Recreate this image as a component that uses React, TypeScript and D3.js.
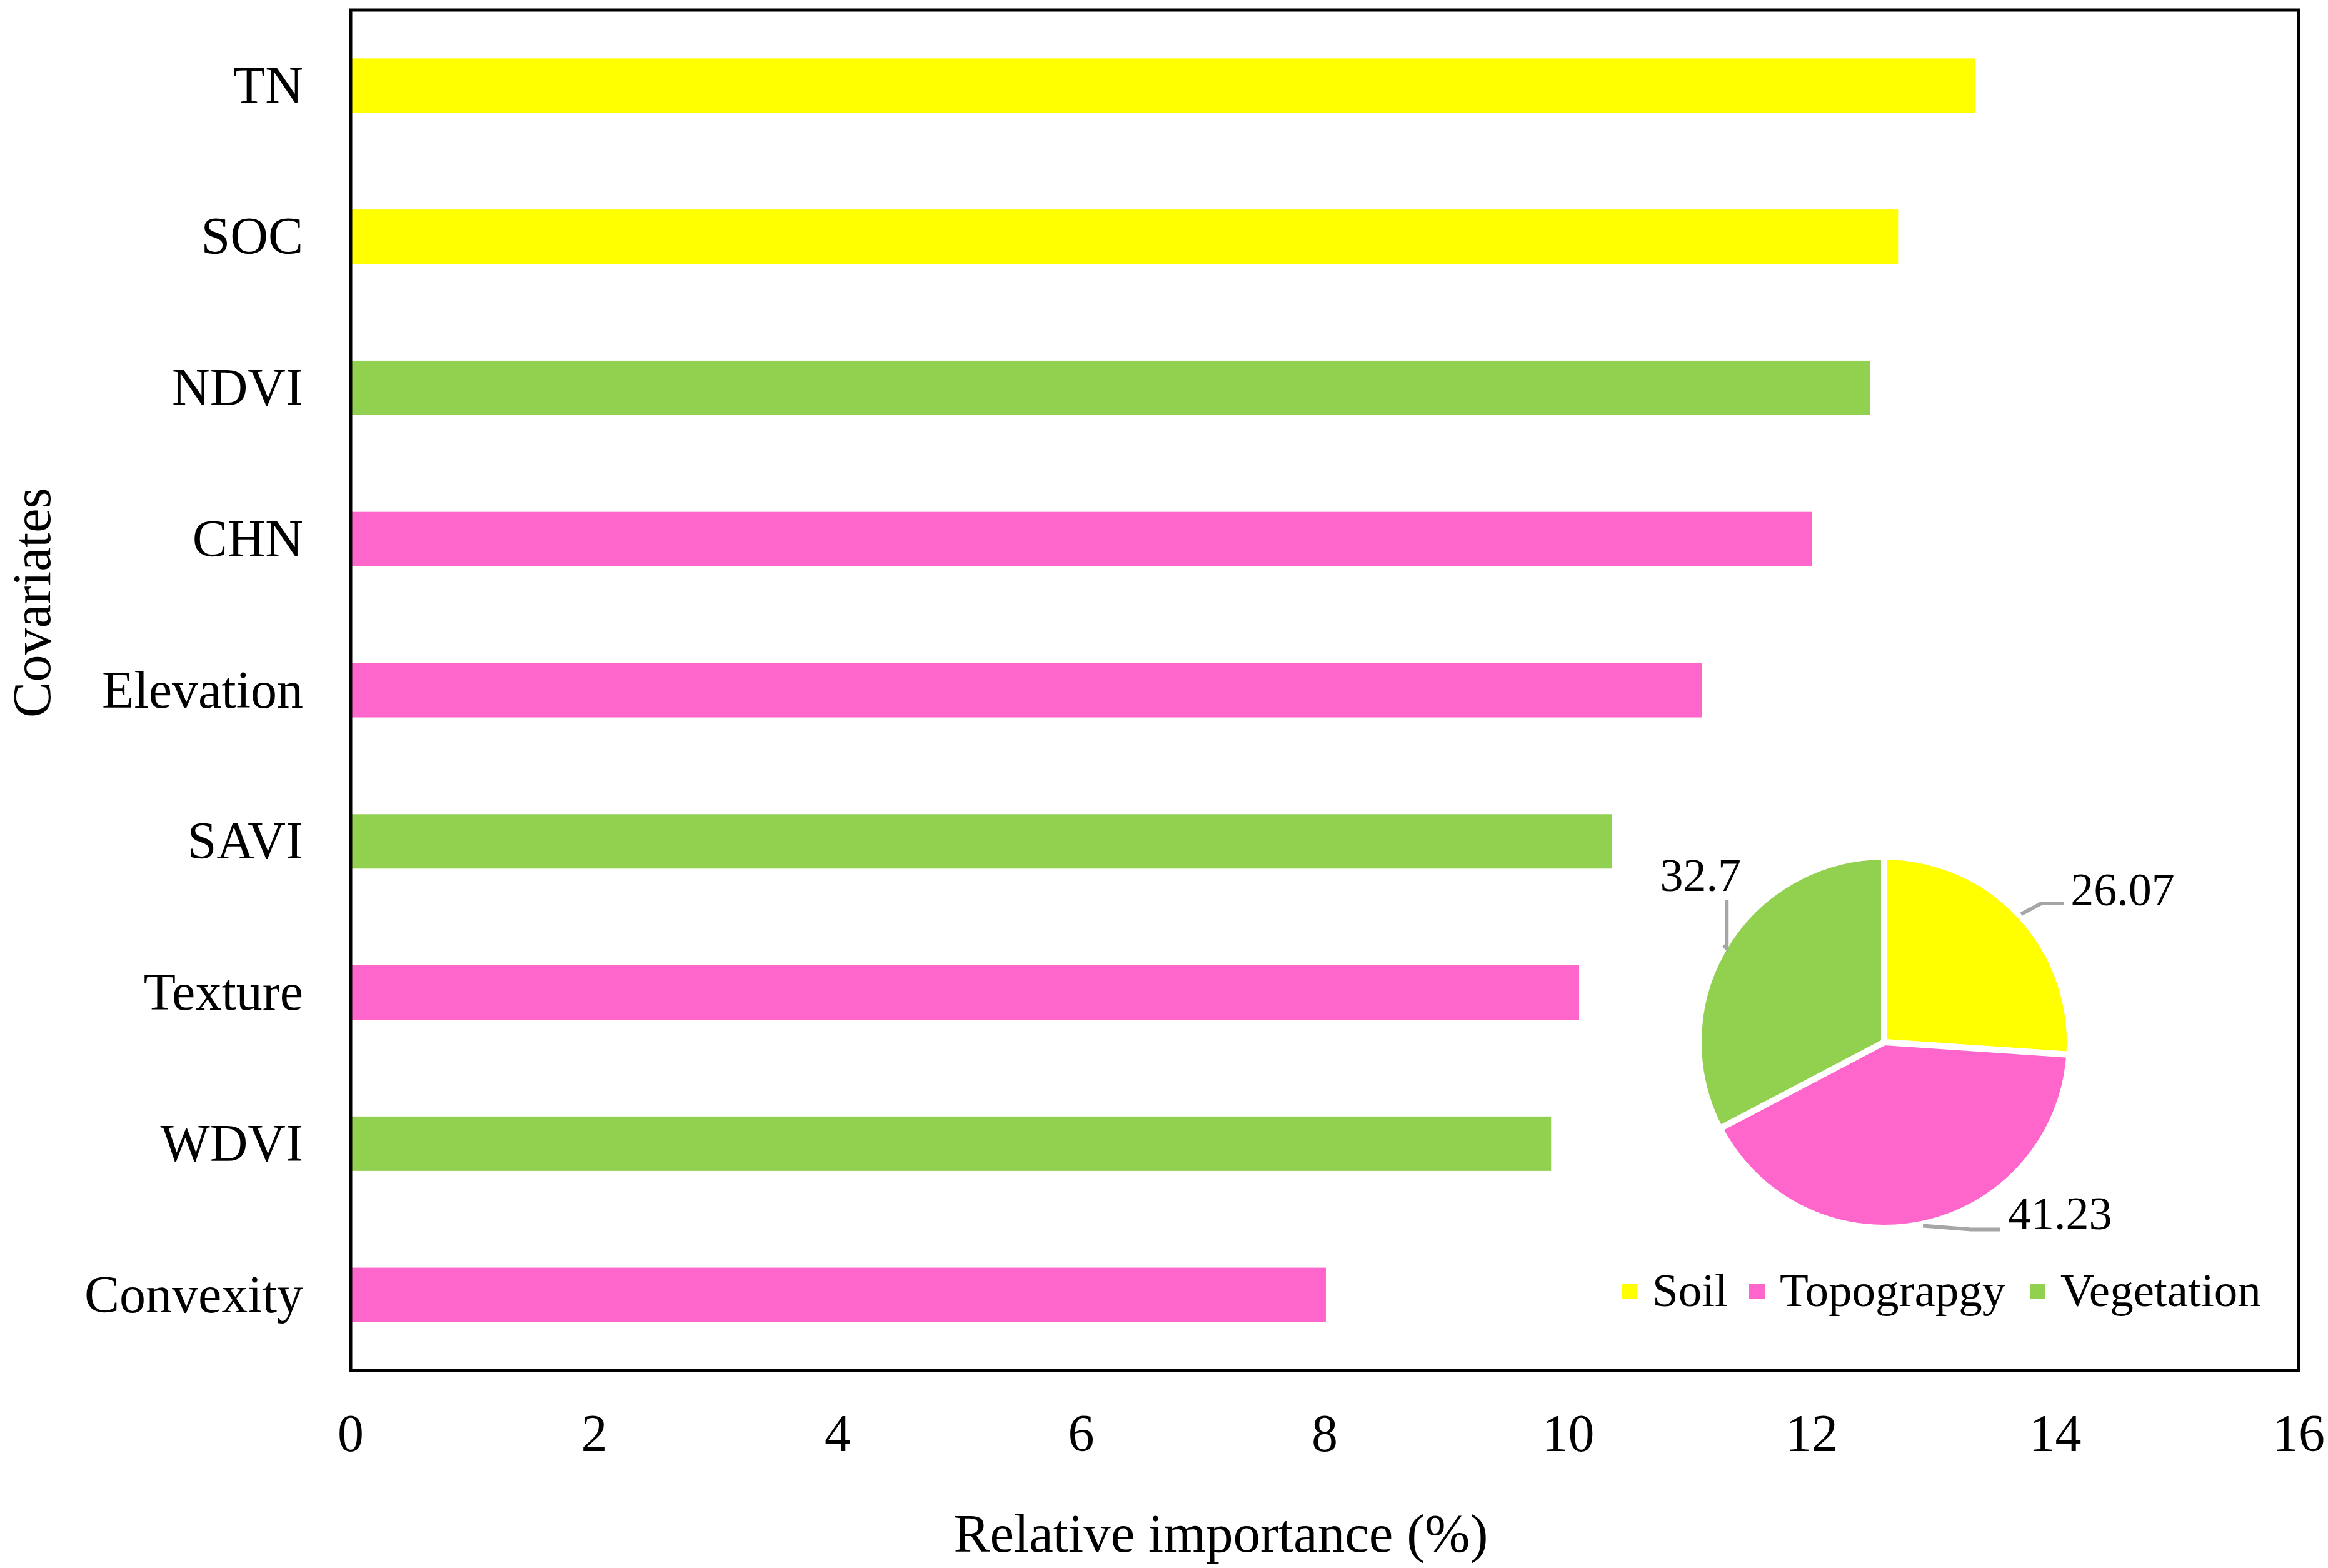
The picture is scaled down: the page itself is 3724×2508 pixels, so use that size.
import React from "react";
import * as d3 from "d3";

// ── Data ──────────────────────────────────────────────────────────────────────

const COVARIATES = ["TN", "SOC", "NDVI", "CHN", "Elevation", "SAVI", "Texture", "WDVI", "Convexity"];
const IMPORTANCE = [13.34, 12.71, 12.48, 12.0, 11.1, 10.36, 10.09, 9.86, 8.01];
const GROUP_OF = ["Soil", "Soil", "Vegetation", "Topography", "Topography", "Vegetation", "Topography", "Vegetation", "Topography"];

const X_TICKS = [0, 2, 4, 6, 8, 10, 12, 14, 16];

const GROUPS = ["Soil", "Topography", "Vegetation"];
const GROUP_LABELS = ["Soil", "Topograpgy", "Vegetation"];
const GROUP_SHARE = [26.07, 41.23, 32.7];

const COLORS: Record<string, string> = {
  Soil: "#FFFF00",
  Topography: "#FF66CC",
  Vegetation: "#92D050",
};

// ── Layout ────────────────────────────────────────────────────────────────────

const W = 3724;
const H = 2508;
const plot = { left: 561, right: 3677, top: 16, bottom: 2192 };
const FONT = "'Liberation Serif', 'Times New Roman', Times, serif";

const pieCenter = { x: 3014, y: 1667 };
const PIE_R = 297;

// leader elbow / end offsets from the slice edge, and label anchor per slice
const LEADERS = [
  { elbow: [32, -17], end: [68, -17], text: [79, -14], anchor: "start" },
  { elbow: [77, 6], end: [124, 6], text: [136, 5], anchor: "start" },
  { elbow: [5, 5], end: [5, -72], text: [-37, -87], anchor: "middle" },
];

export default function App() {
  const x = d3.scaleLinear().domain([0, 16]).range([plot.left, plot.right]);
  const y = d3
    .scaleBand<string>()
    .domain(COVARIATES)
    .range([plot.top, plot.bottom])
    .paddingInner(0.64)
    .paddingOuter(0.32);

  const pie = d3.pie<number>().sort(null).value((d) => d);
  const arcs = pie(GROUP_SHARE);
  const arc = d3.arc<d3.PieArcDatum<number>>().innerRadius(0).outerRadius(PIE_R);
  const edge = d3.arc<d3.PieArcDatum<number>>().innerRadius(300).outerRadius(300);

  const legendX = [2594, 2798, 3247];

  return (
    <svg
      width={W}
      height={H}
      style={{ position: "absolute", left: 0, top: 0, background: "#fff" }}
      fontFamily={FONT}
    >
      <rect x={0} y={0} width={W} height={H} fill="#fff" />

      {/* Bars */}
      {COVARIATES.map((c, i) => (
        <rect
          key={c}
          x={x(0)}
          y={y(c)}
          width={x(IMPORTANCE[i]) - x(0)}
          height={y.bandwidth()}
          fill={COLORS[GROUP_OF[i]]}
        />
      ))}

      {/* Frame */}
      <rect
        x={plot.left}
        y={plot.top}
        width={plot.right - plot.left}
        height={plot.bottom - plot.top}
        fill="none"
        stroke="#000"
        strokeWidth={5}
      />

      {/* Y tick labels */}
      {COVARIATES.map((c) => (
        <text
          key={c}
          x={plot.left - 76}
          y={(y(c) ?? 0) + y.bandwidth() / 2}
          dy="0.33em"
          textAnchor="end"
          fontSize={84}
          fill="#000"
        >
          {c}
        </text>
      ))}

      {/* X tick labels */}
      {X_TICKS.map((t) => (
        <text key={t} x={x(t)} y={2321} textAnchor="middle" fontSize={84} fill="#000">
          {t}
        </text>
      ))}

      {/* Axis titles */}
      <text x={1953} y={2482} textAnchor="middle" fontSize={87} fill="#000">
        Relative importance (%)
      </text>
      <text
        transform="translate(80,964) rotate(-90)"
        textAnchor="middle"
        fontSize={86}
        fill="#000"
      >
        Covariates
      </text>

      {/* Pie */}
      <g transform={`translate(${pieCenter.x},${pieCenter.y})`}>
        {arcs.map((a, i) => (
          <path key={GROUPS[i]} d={arc(a) ?? ""} fill={COLORS[GROUPS[i]]} stroke="#fff" strokeWidth={10} strokeLinejoin="round" />
        ))}
        {arcs.map((a, i) => {
          const [sx, sy] = edge.centroid(a);
          const L = LEADERS[i];
          const pts: [number, number][] = [
            [sx, sy],
            [sx + L.elbow[0], sy + L.elbow[1]],
            [sx + L.end[0], sy + L.end[1]],
          ];
          return (
            <g key={GROUPS[i]}>
              <path d={d3.line()(pts) ?? ""} fill="none" stroke="#A6A6A6" strokeWidth={6} />
              <text
                x={sx + L.text[0]}
                y={sy + L.text[1]}
                textAnchor={L.anchor as "start" | "middle"}
                fontSize={74}
                fill="#000"
              >
                {GROUP_SHARE[i]}
              </text>
            </g>
          );
        })}
      </g>

      {/* Legend */}
      {GROUPS.map((g, i) => (
        <g key={g}>
          <rect x={legendX[i]} y={2053} width={25} height={25} fill={COLORS[g]} />
          <text x={legendX[i] + 49} y={2089} fontSize={75} fill="#000">
            {GROUP_LABELS[i]}
          </text>
        </g>
      ))}
    </svg>
  );
}
